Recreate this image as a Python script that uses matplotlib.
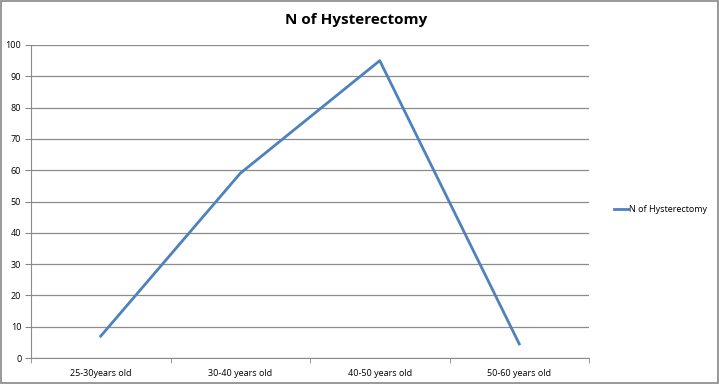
import matplotlib.pyplot as plt
from matplotlib.patches import Rectangle
import numpy as np

categories = ["25-30years old", "30-40 years old", "40-50 years old", "50-60 years old"]
counts = [7, 59, 95, 4.5]
series_name = "N of Hysterectomy"

plt.rcParams["font.family"] = ["Open Sans", "DejaVu Sans"]

fig = plt.figure(figsize=(7.19, 3.84), dpi=100)
ax = fig.add_axes([31 / 719, 1 - 358 / 384, (589 - 31) / 719, (358 - 45) / 384])

x = np.arange(len(categories))
ax.plot(x, counts, color="#4F81BD", linewidth=2, label=series_name)

ax.set_xlim(-0.5, len(categories) - 0.5)
ax.set_ylim(0, 100)
ax.set_yticks(np.arange(0, 101, 10))
ax.set_xticks(x)
ax.set_xticklabels(categories)
ax.set_xticks(np.arange(-0.5, len(categories), 1), minor=True)
ax.tick_params(axis="x", which="major", length=0, labelsize=6.5, pad=8)
ax.tick_params(axis="x", which="minor", length=3.5, color="#888888")
ax.tick_params(axis="y", length=4, color="#888888", labelsize=6.5, pad=3)

ax.grid(axis="y", color="#8c8c8c", linewidth=0.9)
ax.set_axisbelow(True)
for side in ["top", "right"]:
    ax.spines[side].set_visible(False)
for side in ["left", "bottom"]:
    ax.spines[side].set_color("#8c8c8c")

fig.text(0.496, 1 - 20 / 384, series_name,
         ha="center", va="center", fontsize=11, fontweight="bold")

ax.legend(loc="center left", bbox_to_anchor=(1.03, 0.475), frameon=False,
          fontsize=6.5, handlelength=1.6, handletextpad=0.1)

fig.patches.append(Rectangle((0.001, 0.002), 0.997, 0.995, transform=fig.transFigure,
                             fill=False, edgecolor="#888888", linewidth=1.2))

fig.savefig("out.png", dpi=100)
